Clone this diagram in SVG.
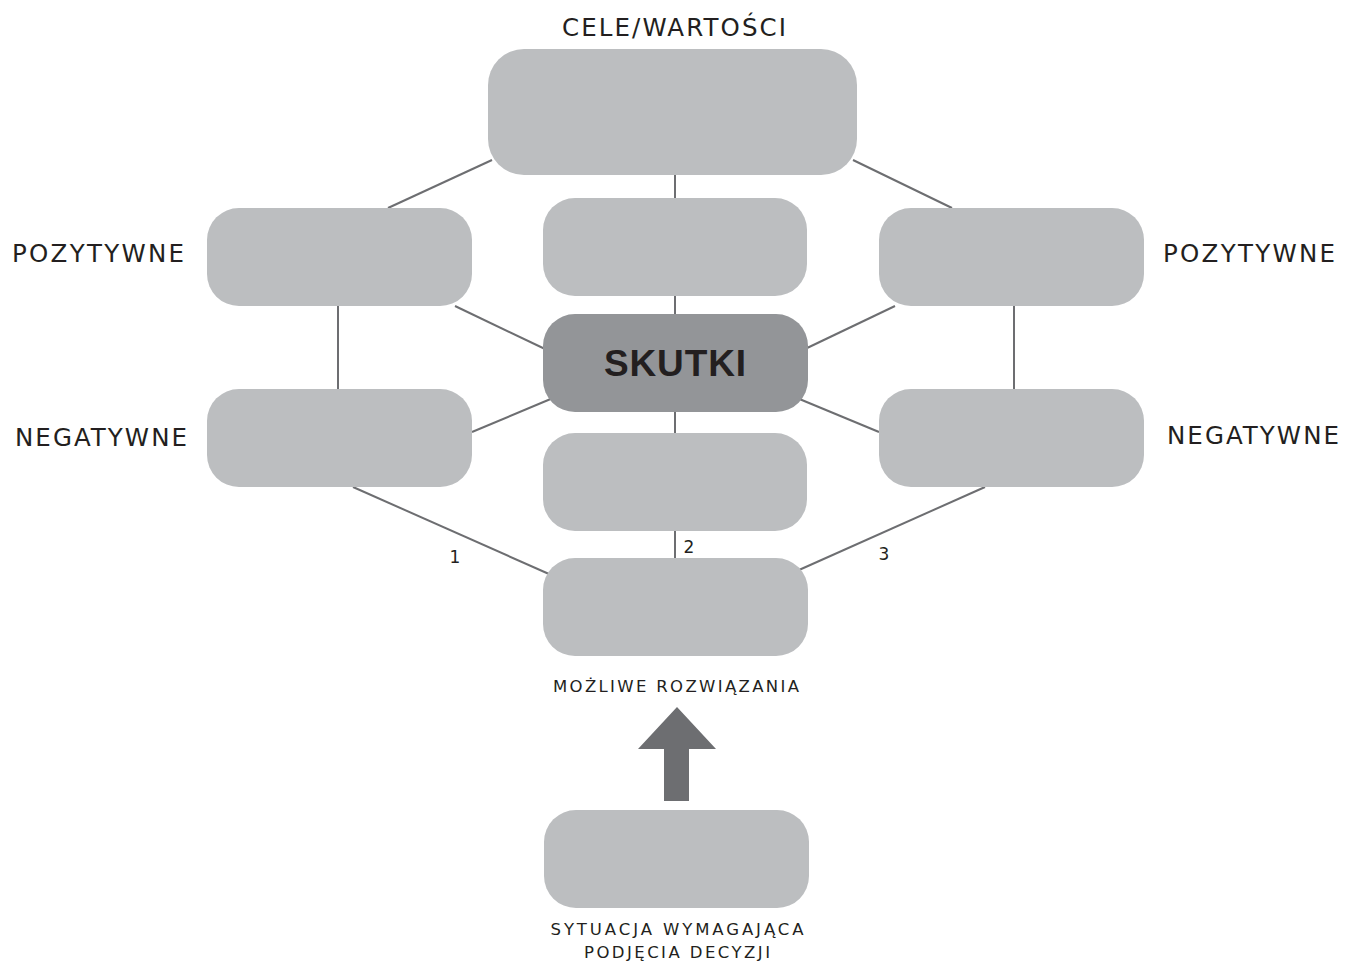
<svg xmlns="http://www.w3.org/2000/svg" width="1345" height="962" viewBox="0 0 1345 962">
<style>
.box{fill:#bcbec0}
.main{fill:#939598}
.ln{stroke:#6d6e71;stroke-width:2;fill:none}
.t{font-family:"DejaVu Sans","Liberation Sans",sans-serif;fill:#231f20}
.lg{font-size:24.5px}
.sm{font-size:16.5px}
.num{font-size:17px}
.big{font-family:"Liberation Sans","DejaVu Sans",sans-serif;font-size:37px;font-weight:bold}
</style>
<rect width="1345" height="962" fill="#ffffff"/>
<g id="connectors">
<line class="ln" x1="492" y1="160" x2="388" y2="208"/>
<line class="ln" x1="853" y1="160" x2="952" y2="208"/>
<line class="ln" x1="675" y1="175" x2="675" y2="198"/>
<line class="ln" x1="675" y1="296" x2="675" y2="314"/>
<line class="ln" x1="675" y1="412" x2="675" y2="433"/>
<line class="ln" x1="675" y1="531" x2="675" y2="558"/>
<line class="ln" x1="455" y1="306" x2="545" y2="349"/>
<line class="ln" x1="472" y1="432" x2="553" y2="398"/>
<line class="ln" x1="895" y1="306" x2="805" y2="349"/>
<line class="ln" x1="879" y1="432" x2="797" y2="398"/>
<line class="ln" x1="338" y1="306" x2="338" y2="389"/>
<line class="ln" x1="1014" y1="306" x2="1014" y2="389"/>
<line class="ln" x1="353" y1="487" x2="549" y2="574"/>
<line class="ln" x1="985" y1="487" x2="799" y2="570"/>
<polygon points="677,707 716,749 689,749 689,801 664,801 664,749 638,749" fill="#6d6e71"/>
</g>
<g id="n-cele"><rect class="box" x="488" y="49" width="369" height="126" rx="36"/>
<text class="t lg" x="674" y="36" text-anchor="middle" textLength="224" lengthAdjust="spacing">CELE/WARTOŚCI</text></g>
<g id="n-pos-left"><rect class="box" x="207" y="208" width="265" height="98" rx="32"/>
<text class="t lg" x="12" y="262" textLength="172" lengthAdjust="spacing">POZYTYWNE</text></g>
<g id="n-neg-left"><rect class="box" x="207" y="389" width="265" height="98" rx="32"/>
<text class="t lg" x="15" y="446" textLength="172" lengthAdjust="spacing">NEGATYWNE</text></g>
<g id="n-pos-right"><rect class="box" x="879" y="208" width="265" height="98" rx="32"/>
<text class="t lg" x="1163" y="262" textLength="172" lengthAdjust="spacing">POZYTYWNE</text></g>
<g id="n-neg-right"><rect class="box" x="879" y="389" width="265" height="98" rx="32"/>
<text class="t lg" x="1167" y="444" textLength="172" lengthAdjust="spacing">NEGATYWNE</text></g>
<g id="n-center-top"><rect class="box" x="543" y="198" width="264" height="98" rx="32"/></g>
<g id="n-skutki"><rect class="main" x="543" y="314" width="265" height="98" rx="32"/>
<text class="t big" x="675" y="376" text-anchor="middle" textLength="142" lengthAdjust="spacing">SKUTKI</text></g>
<g id="n-center-bottom"><rect class="box" x="543" y="433" width="264" height="98" rx="32"/></g>
<g id="n-solutions"><rect class="box" x="543" y="558" width="265" height="98" rx="32"/>
<text class="t sm" x="676" y="692" text-anchor="middle" textLength="246" lengthAdjust="spacing">MOŻLIWE ROZWIĄZANIA</text></g>
<g id="n-situation"><rect class="box" x="544" y="810" width="265" height="98" rx="32"/>
<text class="t sm" x="677" y="935" text-anchor="middle" textLength="253" lengthAdjust="spacing">SYTUACJA WYMAGAJĄCA</text>
<text class="t sm" x="677" y="958" text-anchor="middle" textLength="186" lengthAdjust="spacing">PODJĘCIA DECYZJI</text></g>
<g id="labels">
<text class="t num" x="455" y="563" text-anchor="middle">1</text>
<text class="t num" x="689" y="553" text-anchor="middle">2</text>
<text class="t num" x="884" y="560" text-anchor="middle">3</text>
</g>
</svg>
